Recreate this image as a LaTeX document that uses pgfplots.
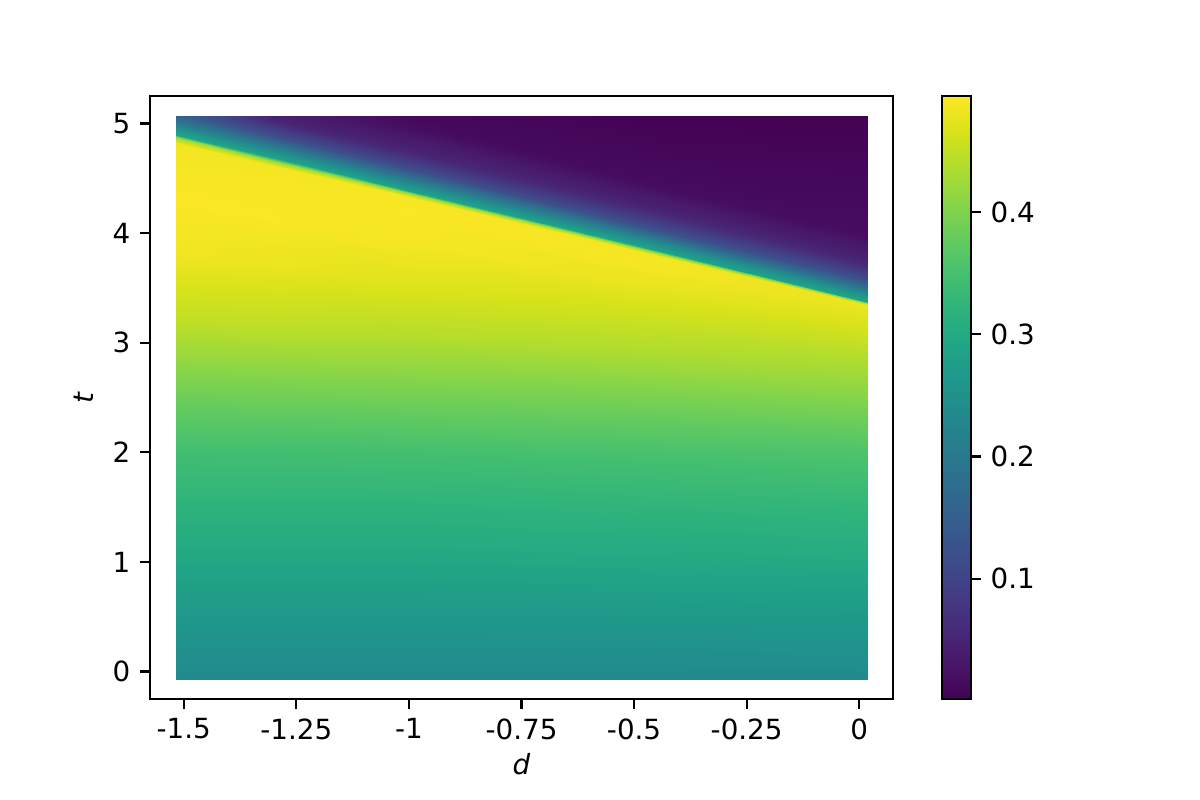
\documentclass[border=0pt]{standalone}
\usepackage{pgfplots}
\pgfplotsset{compat=1.18}
\usepackage{fontspec}
\setmainfont{DejaVu Sans}
\pgfplotstableread{
x y c
-1.518 -0.07 0.235
-1.3 -0.07 0.235
-1.0 -0.07 0.235
-0.5 -0.07 0.235
0.018 -0.07 0.237
-1.518 0.5 0.265
-1.3 0.5 0.265
-1.0 0.5 0.265
-0.5 0.5 0.266
0.018 0.5 0.268
-1.518 1.0 0.295
-1.3 1.0 0.295
-1.0 1.0 0.295
-0.5 1.0 0.297
0.018 1.0 0.300
-1.518 1.5 0.320
-1.3 1.5 0.320
-1.0 1.5 0.320
-0.5 1.5 0.323
0.018 1.5 0.327
-1.518 2.0 0.345
-1.3 2.0 0.346
-1.0 2.0 0.347
-0.5 2.0 0.352
0.018 2.0 0.358
-1.518 2.5 0.385
-1.3 2.5 0.387
-1.0 2.5 0.390
-0.5 2.5 0.395
0.018 2.5 0.405
-1.518 3.219 0.450
-1.3 3.154 0.447
-1.0 3.065 0.440
-0.5 2.916 0.435
0.018 2.762 0.430
-1.518 3.818 0.485
-1.3 3.700 0.480
-1.0 3.536 0.472
-0.5 3.263 0.460
0.018 2.980 0.450
-1.518 4.298 0.494
-1.3 4.136 0.493
-1.0 3.912 0.489
-0.5 3.540 0.480
0.018 3.154 0.467
-1.518 4.657 0.489
-1.3 4.463 0.491
-1.0 4.195 0.493
-0.5 3.748 0.490
0.018 3.285 0.478
-1.518 4.825 0.485
-1.3 4.616 0.487
-1.0 4.326 0.490
-0.5 3.845 0.488
0.018 3.346 0.482
-1.518 4.873 0.420
-1.3 4.659 0.420
-1.0 4.364 0.420
-0.5 3.873 0.420
0.018 3.363 0.420
-1.518 4.897 0.310
-1.3 4.681 0.310
-1.0 4.383 0.310
-0.5 3.887 0.310
0.018 3.372 0.310
}\lowertable
\pgfplotstableread{
x y c
-1.518 4.897 0.290
-1.3 4.681 0.290
-1.0 4.383 0.290
-0.5 3.887 0.290
0.018 3.372 0.290
-1.518 4.947 0.260
-1.3 4.731 0.260
-1.0 4.433 0.260
-0.5 3.937 0.260
0.018 3.422 0.260
-1.518 4.997 0.210
-1.3 4.781 0.210
-1.0 4.483 0.210
-0.5 3.987 0.210
0.018 3.472 0.210
-1.518 5.07 0.160
-1.3 4.881 0.120
-1.0 4.583 0.120
-0.5 4.087 0.120
0.018 3.572 0.120
-1.518 5.07 0.160
-1.3 5.031 0.050
-1.0 4.733 0.055
-0.5 4.237 0.055
0.018 3.722 0.055
-1.518 5.07 0.160
-1.3 5.07 0.045
-1.0 4.983 0.016
-0.5 4.487 0.016
0.018 3.972 0.018
-1.518 5.07 0.160
-1.3 5.07 0.045
-1.0 5.07 0.012
-0.5 5.07 0.003
0.018 5.07 0.002
}\uppertable
\begin{document}
\fontsize{7.9}{9.5}\selectfont
\begin{tikzpicture}
\path[use as bounding box] (0,0) rectangle (12cm,8cm);
\begin{axis}[
  at={(1.50cm,1.01cm)}, anchor=south west, scale only axis,
  width=7.43cm, height=6.03cm,
  xmin=-1.575, xmax=0.075, ymin=-0.25, ymax=5.25,
  xtick={-1.5,-1.25,-1,-0.75,-0.5,-0.25,0},
  xticklabels={-1.5,-1.25,-1,-0.75,-0.5,-0.25,0},
  ytick={0,1,2,3,4,5},
  yticklabels={0,1,2,3,4,5},
  tick align=outside, tick pos=left, major tick length=0.097cm,
  axis line style={line width=0.63pt},
  every tick/.style={line width=0.63pt, black},
  tick label style={font=\fontsize{7.9}{9.5}\selectfont},
  label style={font=\fontsize{7.9}{9.5}\selectfont},
  xlabel={\textit{d}}, ylabel={\textit{t}},
  xlabel style={yshift=0.05cm},
  colormap name=viridis,
  point meta min=0.0016, point meta max=0.495,
  colorbar,
  colorbar style={
    at={(parent axis.north east)}, anchor=north west, xshift=0.19cm,
    width=0.29cm,
    ytick={0.1,0.2,0.3,0.4},
    yticklabels={0.1,0.2,0.3,0.4},
    ytick pos=right, xtick=\empty,
    tick align=outside, major tick length=0.097cm,
    axis line style={line width=0.63pt},
    every tick/.style={line width=0.63pt, black},
    yticklabel style={font=\fontsize{7.9}{9.5}\selectfont},
  },
]
\addplot[surf, shader=interp, mesh/rows=13, mesh/cols=5, point meta=explicit]
  table[x=x, y=y, meta=c] {\lowertable};
\addplot[surf, shader=interp, mesh/rows=7, mesh/cols=5, point meta=explicit]
  table[x=x, y=y, meta=c] {\uppertable};
\end{axis}
\end{tikzpicture}
\end{document}
